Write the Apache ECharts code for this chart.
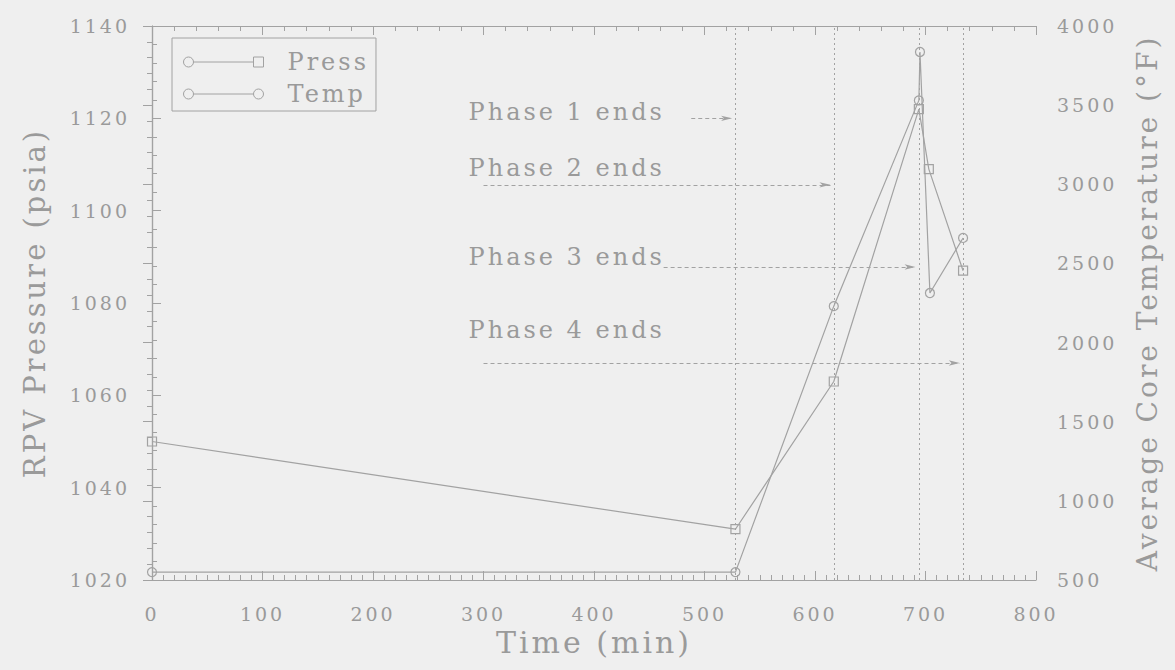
<!DOCTYPE html>
<html>
<head>
<meta charset="utf-8">
<script src="https://cdn.jsdelivr.net/npm/echarts@6/dist/echarts.min.js"></script>
<style>
html, body { margin: 0; padding: 0; background: #efefef; }
#c { width: 1175px; height: 670px; }
#c svg text { letter-spacing: 3px; }
</style>
</head>
<body>
<div id="c"></div>
<script>
// ---- data ----
const pressTime   = [0, 528, 617, 694, 703, 734];
const pressValues = [1050, 1031, 1063, 1122, 1109, 1087];
const tempTime    = [0, 528, 617, 694, 695, 704, 734];
const tempValues  = [550, 550, 2230, 3530, 3836, 2313, 2661];

const timeTicks  = [0, 100, 200, 300, 400, 500, 600, 700, 800];
const pressTicks = [1020, 1040, 1060, 1080, 1100, 1120, 1140];
const tempTicks  = [500, 1000, 1500, 2000, 2500, 3000, 3500, 4000];

const phaseNames      = ['Phase 1 ends', 'Phase 2 ends', 'Phase 3 ends', 'Phase 4 ends'];
const phaseEndTimes   = [528, 617, 694, 734];
const phaseLabelTime  = [286, 286, 286, 286];
const phaseLabelPress = [1121.4, 1109.2, 1090.0, 1074.2];
const phaseArrowStart = [488, 300, 463, 300];
const phaseArrowEnd   = [525, 614, 691, 731];
const phaseArrowPress = [1120.0, 1105.6, 1087.8, 1067.0];

// ---- styling ----
const FONT = 'DejaVu Serif';
const TXT = '#9a9a9a';
const LN = '#a2a2a2';
const BG = '#efefef';

const PRESS_ICON = 'path://M0,5A5,5,0,1,1,10,5A5,5,0,1,1,0,5ZM10,5L70,5M70,0L80,0L80,10L70,10Z';
const TEMP_ICON  = 'path://M0,5A5,5,0,1,1,10,5A5,5,0,1,1,0,5ZM10,5L70,5M70,5A5,5,0,1,1,80,5A5,5,0,1,1,70,5Z';

const chart = echarts.init(document.getElementById('c'), null, { renderer: 'svg' });

const plain = v => String(v);

const axisCommon = {
  axisLine: { show: true, lineStyle: { color: LN, width: 1.2 } },
  axisTick: { show: true, inside: true, length: 9, lineStyle: { color: LN } },
  splitLine: { show: false },
  minorSplitLine: { show: false },
  nameTextStyle: { fontFamily: FONT, fontSize: 29, color: TXT }
};

const option = {
  backgroundColor: BG,
  animation: false,
  grid: { left: 152, right: 139, top: 26, bottom: 90 },
  legend: {
    orient: 'vertical',
    left: 172, top: 38,
    borderColor: LN, borderWidth: 1,
    padding: [12, 22, 5, 11],
    itemGap: 8,
    itemWidth: 80, itemHeight: 10,
    textStyle: { fontFamily: FONT, fontSize: 24, color: TXT, padding: [0, 0, 0, 19] },
    itemStyle: { color: 'transparent', borderColor: LN, borderWidth: 1 },
    data: [
      { name: 'Press', icon: PRESS_ICON },
      { name: 'Temp', icon: TEMP_ICON }
    ]
  },
  xAxis: [
    Object.assign({}, axisCommon, {
      type: 'value', position: 'bottom',
      min: timeTicks[0], max: timeTicks[timeTicks.length - 1], interval: timeTicks[1] - timeTicks[0],
      minorTick: { show: true, splitNumber: 10, length: 5, lineStyle: { color: LN } },
      name: 'Time (min)', nameLocation: 'middle', nameGap: 47,
      nameTextStyle: { fontFamily: FONT, fontSize: 30, color: TXT },
      axisLabel: { fontFamily: FONT, fontSize: 19, color: TXT, margin: 24, formatter: plain }
    }),
    Object.assign({}, axisCommon, {
      type: 'value', position: 'top',
      min: timeTicks[0], max: timeTicks[timeTicks.length - 1], interval: timeTicks[1] - timeTicks[0],
      minorTick: { show: true, splitNumber: 5, length: 5, lineStyle: { color: LN } },
      axisLabel: { show: false }
    })
  ],
  yAxis: [
    Object.assign({}, axisCommon, {
      type: 'value', position: 'left',
      min: pressTicks[0], max: pressTicks[pressTicks.length - 1], interval: pressTicks[1] - pressTicks[0],
      minorTick: { show: true, splitNumber: 5, length: 5, lineStyle: { color: LN } },
      name: 'RPV Pressure (psia)', nameLocation: 'middle', nameRotate: 90, nameGap: 103,
      nameTextStyle: { fontFamily: FONT, fontSize: 29, color: TXT },
      axisLabel: { fontFamily: FONT, fontSize: 19, color: TXT, margin: 22, formatter: plain }
    }),
    Object.assign({}, axisCommon, {
      type: 'value', position: 'right',
      min: tempTicks[0], max: tempTicks[tempTicks.length - 1], interval: tempTicks[1] - tempTicks[0],
      minorTick: { show: true, splitNumber: 5, length: 5, lineStyle: { color: LN } },
      name: 'Average Core Temperature (°F)', nameLocation: 'middle', nameRotate: 90, nameGap: 97,
      nameTextStyle: { fontFamily: FONT, fontSize: 28, color: TXT },
      axisLabel: { fontFamily: FONT, fontSize: 19, color: TXT, margin: 21, formatter: plain }
    })
  ],
  series: [
    {
      name: 'Press', type: 'line', xAxisIndex: 0, yAxisIndex: 0,
      data: pressTime.map((t, i) => [t, pressValues[i]]),
      symbol: 'rect', symbolSize: 9,
      lineStyle: { color: LN, width: 1.2 },
      itemStyle: { color: 'transparent', borderColor: LN, borderWidth: 1.2 },
      markLine: {
        silent: true, animation: false,
        symbol: ['none', 'arrow'], symbolSize: [4, 11],
        label: { show: false },
        lineStyle: { color: LN, type: [4, 3], width: 1 },
        data: phaseNames.map((n, i) => [
          { coord: [phaseArrowStart[i], phaseArrowPress[i]] },
          { coord: [phaseArrowEnd[i], phaseArrowPress[i]] }
        ])
      },
      markPoint: {
        silent: true, animation: false,
        symbol: 'circle', symbolSize: 1,
        itemStyle: { color: 'transparent' },
        label: {
          show: true, position: 'right', distance: 0,
          formatter: p => p.name,
          fontFamily: FONT, fontSize: 24, color: TXT
        },
        data: phaseNames.map((n, i) => ({ name: n, coord: [phaseLabelTime[i], phaseLabelPress[i]] }))
      }
    },
    {
      name: 'Temp', type: 'line', xAxisIndex: 0, yAxisIndex: 1,
      data: tempTime.map((t, i) => [t, tempValues[i]]),
      symbol: 'circle', symbolSize: 9,
      lineStyle: { color: LN, width: 1.2 },
      itemStyle: { color: 'transparent', borderColor: LN, borderWidth: 1.2 },
      markLine: {
        silent: true, animation: false,
        symbol: 'none',
        label: { show: false },
        lineStyle: { color: LN, type: [2, 3], width: 1 },
        data: phaseEndTimes.map(t => ({ xAxis: t }))
      }
    }
  ]
};

chart.setOption(option);
</script>
</body>
</html>
